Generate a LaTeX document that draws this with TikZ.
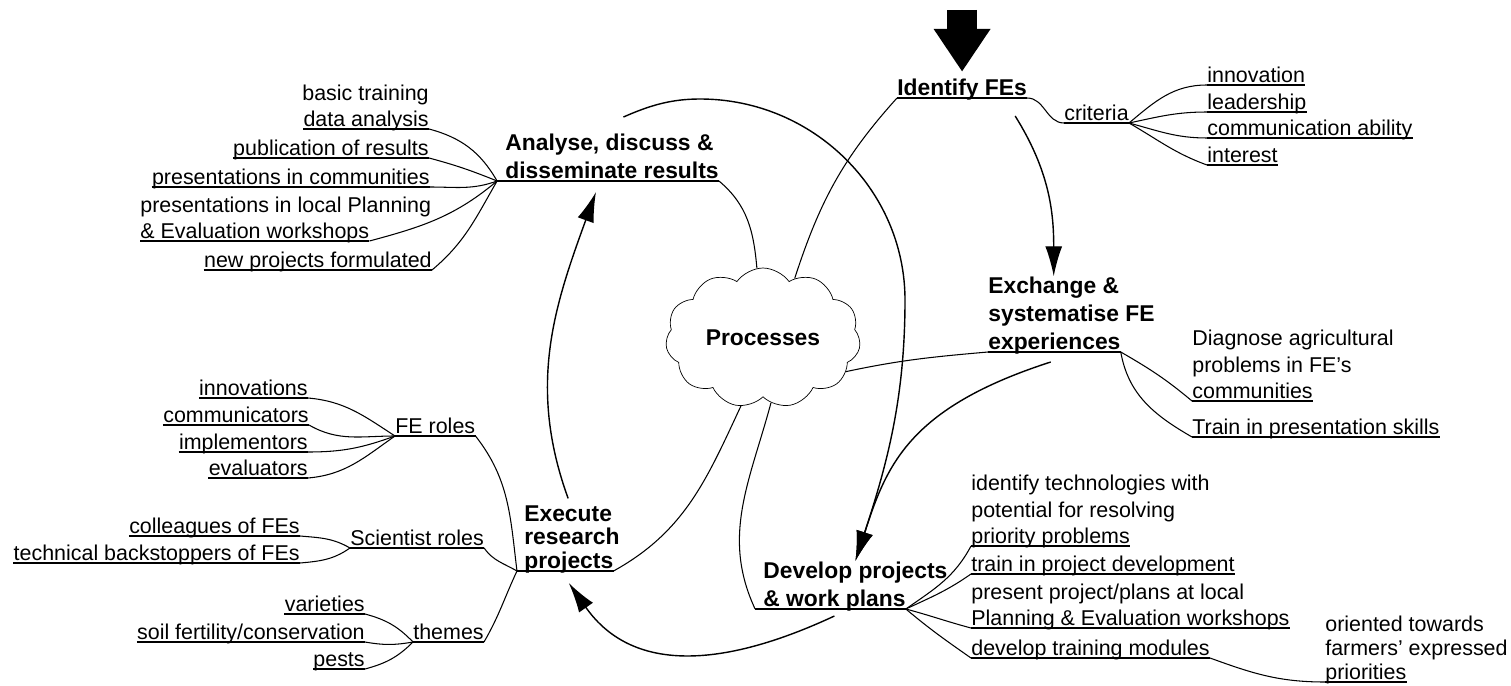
\documentclass[tikz,border=0pt]{standalone}
\usepackage{fontspec}
\setmainfont{Liberation Sans}
\usepackage{tikz}
\usetikzlibrary{arrows.meta, positioning, shapes.symbols}

\begin{document}
\begin{tikzpicture}[x=0.02cm, y=0.02cm]
	\tikzstyle{leaf} = [font=\fontsize{12.2}{14.8}\selectfont, inner sep=0pt, text height=9pt, text depth=1pt]
	\tikzstyle{hub} = [font=\fontsize{13}{15.4}\selectfont\bfseries, inner sep=0pt, text height=9.6pt, text depth=1.5pt]
	\tikzstyle{twig} = [line width=0.6pt]
	\tikzstyle{flow} = [line width=0.8pt, -{Latex[length=0.6cm, width=0.34cm]}]
	\tikzstyle{bigarrow} = [line width=0.6cm, -{Triangle[length=0.86cm, width=1.08cm]}]
	\useasboundingbox (0,0) rectangle (1511,-686);

	\node (proc) [draw, cloud, cloud puffs=11, cloud puff arc=110, cloud ignores aspect, minimum width=3.9cm, minimum height=2.8cm, font=\fontsize{13}{15.4}\selectfont\bfseries] at (763,-338) {Processes};

	\node (ident) [hub, anchor=south west] at (897,-98) {Identify FEs};
	\coordinate (entry) at ([yshift=1.36cm]ident.north);
	\node (ana) [hub, anchor=south west] at (505,-181) {disseminate results};
	\node (anatop) [hub, above right=4.3pt and 0pt of ana.north west] {Analyse, discuss \&};
	\node (exch) [hub, anchor=south west] at (988,-352) {experiences};
	\node (exch2) [hub, above right=4.3pt and 0pt of exch.north west] {systematise FE};
	\node (exch1) [hub, above right=4.3pt and 0pt of exch2.north west] {Exchange \&};
	\node (exe) [hub, anchor=south west] at (524,-571) {projects};
	\node (exe2) [hub, above right=1.7pt and 0pt of exe.north west] {research};
	\node (exe1) [hub, above right=1.7pt and 0pt of exe2.north west] {Execute};
	\node (dev) [hub, anchor=south west] at (763,-609) {\& work plans};
	\node (dev1) [hub, above right=4.3pt and 0pt of dev.north west] {Develop projects};

	\node (dana) [leaf, anchor=south east] at (429,-129) {data analysis};
	\node (basic) [leaf, above left=4.8pt and 0pt of dana.north east] {basic training};
	\node (publ) [leaf, anchor=south east] at (429,-158) {publication of results};
	\node (pcom) [leaf, anchor=south east] at (430,-187) {presentations in communities};
	\node (pwork) [leaf, anchor=south west] at (140,-241) {\& Evaluation workshops};
	\node (pplan) [leaf, above right=4.8pt and 0pt of pwork.north west] {presentations in local Planning};
	\node (newp) [leaf, anchor=south east] at (432,-270) {new projects formulated};

	\node (crit) [leaf, anchor=south west] at (1064,-123) {criteria};
	\node (innov) [leaf, anchor=south west] at (1207,-85) {innovation};
	\node (lead) [leaf, anchor=south west] at (1207,-112) {leadership};
	\node (comm) [leaf, anchor=south west] at (1207,-138) {communication ability};
	\node (inter) [leaf, anchor=south west] at (1207,-165) {interest};

	\node (diag) [leaf, anchor=south west] at (1192,-401) {communities};
	\node (diag2) [leaf, above right=4.8pt and 0pt of diag.north west] {problems in FE’s};
	\node (diag1) [leaf, above right=4.8pt and 0pt of diag2.north west] {Diagnose agricultural};
	\node (trainp) [leaf, anchor=south west] at (1192,-437) {Train in presentation skills};

	\node (feroles) [leaf, anchor=south west] at (395,-436) {FE roles};
	\node (innovs) [leaf, anchor=south east] at (308,-398) {innovations};
	\node (commun) [leaf, anchor=south east] at (309,-425) {communicators};
	\node (implem) [leaf, anchor=south east] at (308,-452) {implementors};
	\node (evalu) [leaf, anchor=south east] at (308,-478) {evaluators};
	\node (sci) [leaf, anchor=south west] at (350,-548) {Scientist roles};
	\node (coll) [leaf, anchor=south east] at (300,-536) {colleagues of FEs};
	\node (tech) [leaf, anchor=south east] at (300,-563) {technical backstoppers of FEs};
	\node (themes) [leaf, anchor=south west] at (413,-642) {themes};
	\node (vari) [leaf, anchor=south east] at (365,-614) {varieties};
	\node (soil) [leaf, anchor=south east] at (365,-642) {soil fertility/conservation};
	\node (pests) [leaf, anchor=south east] at (365,-669) {pests};

	\node (prio) [leaf, anchor=south west] at (971,-546) {priority problems};
	\node (prio2) [leaf, above right=4.8pt and 0pt of prio.north west] {potential for resolving};
	\node (prio1) [leaf, above right=4.8pt and 0pt of prio2.north west] {identify technologies with};
	\node (trainpd) [leaf, anchor=south west] at (971,-574) {train in project development};
	\node (plan) [leaf, anchor=south west] at (971,-628) {Planning \& Evaluation workshops};
	\node (plan1) [leaf, above right=4.8pt and 0pt of plan.north west] {present project/plans at local};
	\node (modul) [leaf, anchor=south west] at (971,-658) {develop training modules};
	\node (prior) [leaf, anchor=south west] at (1325,-682) {priorities};
	\node (prior2) [leaf, above right=3.5pt and 0pt of prior.north west] {farmers’ expressed};
	\node (prior1) [leaf, above right=3.5pt and 0pt of prior2.north west] {oriented towards};

	\foreach \n in {dana,publ,pcom,pwork,newp,crit,innov,lead,comm,inter,diag,trainp,feroles,innovs,commun,implem,evalu,sci,coll,tech,themes,vari,soil,pests,prio,trainpd,plan,modul,prior,ident,exch}
		\draw[twig] (\n.south west) -- (\n.south east);
	\coordinate (anaL) at ([xshift=-4.5pt]ana.south west);
	\coordinate (exeL) at ([xshift=-4pt]exe.south west);
	\coordinate (devL) at ([xshift=-4.5pt]dev.south west);
	\draw[twig] (anaL) -- (ana.south east);
	\draw[twig] (exeL) -- (exe.south east);
	\draw[twig] (devL) -- (dev.south east);

	\draw[twig] (anaL) to[out=120, in=-15] (dana.south east);
	\draw[twig] (anaL) to[out=158, in=-15] (publ.south east);
	\draw[twig] (anaL) to[out=-160, in=0] (pcom.south east);
	\draw[twig] (anaL) to[out=-140, in=15] (pwork.south east);
	\draw[twig] (anaL) to[out=-120, in=40] (newp.south east);

	\draw[twig] (ident.south east) to[out=0, in=180] (crit.south west);
	\draw[twig] (crit.south east) to[out=40, in=180] (innov.south west);
	\draw[twig] (crit.south east) to[out=12, in=180] (lead.south west);
	\draw[twig] (crit.south east) to[out=-15, in=180] (comm.south west);
	\draw[twig] (crit.south east) to[out=-30, in=160] (inter.south west);

	\draw[twig] (exch.south east) to[out=-30, in=140] (diag.south west);
	\draw[twig] (exch.south east) to[out=-80, in=150] (trainp.south west);

	\draw[twig] (feroles.south west) to[out=147, in=-5] (innovs.south east);
	\draw[twig] (feroles.south west) to[out=180, in=-30] (commun.south east);
	\draw[twig] (feroles.south west) to[out=-160, in=0] (implem.south east);
	\draw[twig] (feroles.south west) to[out=-145, in=5] (evalu.south east);
	\draw[twig] (sci.south west) to[out=150, in=-5] (coll.south east);
	\draw[twig] (sci.south west) to[out=-145, in=5] (tech.south east);
	\draw[twig] (themes.south west) to[out=134, in=-15] (vari.south east);
	\draw[twig] (themes.south west) to[out=-170, in=-10] (soil.south east);
	\draw[twig] (themes.south west) to[out=-135, in=15] (pests.south east);
	\draw[twig] (feroles.south east) to[out=-52, in=97] (exeL);
	\draw[twig] (sci.south east) to[out=-55, in=150] (exeL);
	\draw[twig] (themes.south east) to[out=60, in=-115] (exeL);

	\draw[twig] (dev.south east) to[out=35, in=-118] (prio.south west);
	\draw[twig] (dev.south east) to[out=25, in=-145] (trainpd.south west);
	\draw[twig] (dev.south east) to[out=-15, in=165] (plan.south west);
	\draw[twig] (dev.south east) to[out=-40, in=145] (modul.south west);
	\draw[twig] (modul.south east) to[out=-20, in=180] (prior.south west);

	\draw[twig] (ana.south east) to[out=-40, in=95] (proc.95);
	\draw[twig] (proc.62) to[out=72, in=-132] (ident.south west);
	\draw[twig] (proc.-22) to[out=12, in=185] (exch.south west);
	\draw[twig] (proc.-108) to[out=-115, in=29] (exe.south east);
	\draw[twig] (proc.-83) to[out=-105, in=115] (devL);

	\draw[flow] ([shift={(-12,-18)}]ident.south east) to[out=-58, in=90] (exch1.north);
	\draw[flow] ([shift={(-70,-10)}]exch.south east) .. controls +(-143,-46) and +(31,95) .. (dev1.north);
	\draw[flow] ([shift={(14,16)}]anatop.north) .. controls +(27,12) and (672,-99) .. (700,-99) .. controls (813,-99) and (905,-190) .. (905,-300) .. controls (905,-400) and +(31,95) .. (dev1.north);
	\draw[flow] ([yshift=0.12cm]exe1.north) to[out=110, in=-110] ([shift={(-16,-11)}]ana.south);
	\draw[flow] ([yshift=-0.14cm]dev.south) to[out=-155, in=-55, looseness=1.1] ([yshift=-0.24cm]exe.south);
	\draw[bigarrow] (entry) -- ([yshift=0.12cm]ident.north);
\end{tikzpicture}
\end{document}
